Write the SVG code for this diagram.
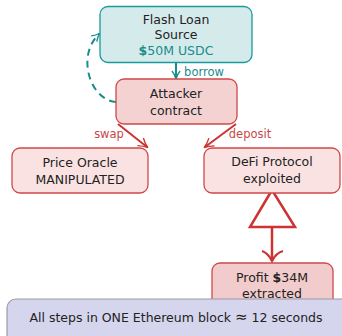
<svg xmlns="http://www.w3.org/2000/svg" width="342" height="336" viewBox="0 0 342 336">
<style>
text{font-family:"DejaVu Sans","Liberation Sans",sans-serif;font-size:12.5px;fill:#222;text-anchor:middle}
.teal{fill:#1a8c8c}
.red{fill:#c84848}
.lbl{font-size:11.5px}
.box{stroke-width:1.3}
</style>
<defs>
<marker id="ah-teal" viewBox="0 0 10 10" refX="8" refY="5" markerWidth="10" markerHeight="10" orient="auto" markerUnits="userSpaceOnUse">
<path d="M1,1 Q5,4 9,5 Q5,6 1,9" fill="none" stroke="#1a8c8c" stroke-width="1.3"/>
</marker>
<marker id="ah-red" viewBox="0 0 10 10" refX="8" refY="5" markerWidth="12" markerHeight="12" orient="auto" markerUnits="userSpaceOnUse">
<path d="M1,1 Q5,4 9,5 Q5,6 1,9" fill="none" stroke="#cc3333" stroke-width="1.1"/>
</marker>
</defs>
<g id="connectors" fill="none">
<path d="M176,63 L176,78" stroke="#1a8c8c" stroke-width="2" marker-end="url(#ah-teal)"/>
<path d="M116,102 C90,100 76,56 99,34" stroke="#1a8c8c" stroke-width="2" stroke-dasharray="7,5" marker-end="url(#ah-teal)"/>
<path d="M118,124 L147,147" stroke="#cc3333" stroke-width="2" marker-end="url(#ah-red)"/>
<path d="M236,124 L205,147" stroke="#cc3333" stroke-width="2" marker-end="url(#ah-red)"/>
<path d="M272,190 L250,227 L295,227 Z" stroke="#cc3333" stroke-width="2.5" fill="#fff"/>
<path d="M272,227 L272,261" stroke="#cc3333" stroke-width="2.5"/>
<path d="M262,251 Q268,253 272,261 Q276,253 283,251" stroke="#cc3333" stroke-width="2.2"/>
<text x="204" y="76" class="teal lbl">borrow</text>
<text x="109" y="138" class="red lbl">swap</text>
<text x="250" y="138" class="red lbl">deposit</text>
</g>
<g id="flash-loan">
<rect x="100" y="6.5" width="152" height="56" rx="8" fill="#d5ebeb" stroke="#1a9a9a" class="box"/>
<text x="176" y="24">Flash Loan</text>
<text x="176" y="39">Source</text>
<text x="176" y="55" class="teal"><tspan font-weight="bold">$</tspan>50M USDC</text>
</g>
<g id="attacker">
<rect x="116" y="79" width="121" height="45" rx="8" fill="#f4d2d2" stroke="#d04848" class="box"/>
<text x="176" y="98">Attacker</text>
<text x="176" y="115">contract</text>
</g>
<g id="oracle">
<rect x="12" y="148" width="136" height="45" rx="8" fill="#fae2e2" stroke="#d04848" class="box"/>
<text x="80" y="167">Price Oracle</text>
<text x="80" y="184">MANIPULATED</text>
</g>
<g id="defi">
<rect x="204" y="148" width="136" height="45" rx="8" fill="#fae2e2" stroke="#d04848" class="box"/>
<text x="272" y="166">DeFi Protocol</text>
<text x="272" y="183">exploited</text>
</g>
<g id="profit">
<rect x="212" y="263" width="121" height="45" rx="8" fill="#f2cccc" stroke="#d04848" class="box"/>
<text x="272" y="282">Profit <tspan font-weight="bold">$</tspan>34M</text>
<text x="272" y="298">extracted</text>
</g>
<g id="note">
<rect x="7" y="299" width="345" height="45" rx="9" fill="#d5d5ee" stroke="#9a9aa6" stroke-width="1.2"/>
<text x="176" y="322">All steps in ONE Ethereum block <tspan font-size="15">≈</tspan> 12 seconds</text>
</g>
</svg>
